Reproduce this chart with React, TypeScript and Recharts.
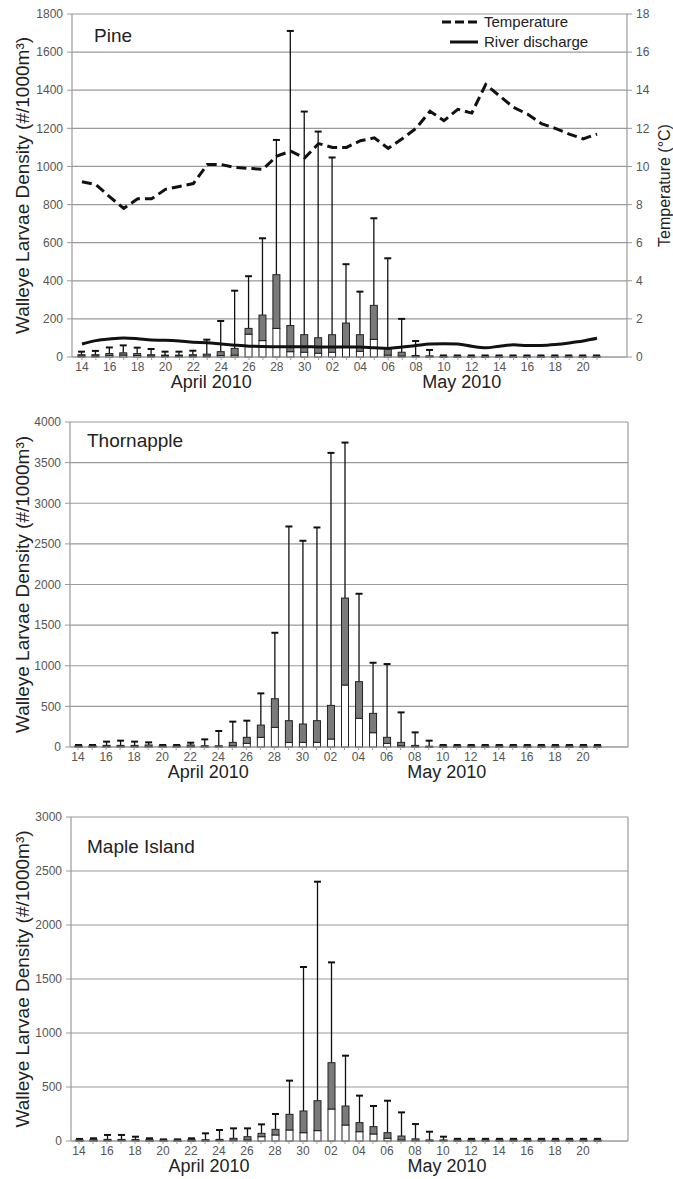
import React from 'react';
import { ComposedChart, Bar, Line, XAxis, YAxis, CartesianGrid, Legend, Label } from 'recharts';

const FONT = '"Liberation Sans", Arial, sans-serif';

// sampling dates, 14 April to 21 May 2010
const dates = [
  'Apr 14', 'Apr 15', 'Apr 16', 'Apr 17', 'Apr 18', 'Apr 19', 'Apr 20', 'Apr 21', 'Apr 22',
  'Apr 23', 'Apr 24', 'Apr 25', 'Apr 26', 'Apr 27', 'Apr 28', 'Apr 29', 'Apr 30',
  'May 01', 'May 02', 'May 03', 'May 04', 'May 05', 'May 06', 'May 07', 'May 08', 'May 09',
  'May 10', 'May 11', 'May 12', 'May 13', 'May 14', 'May 15', 'May 16', 'May 17', 'May 18',
  'May 19', 'May 20', 'May 21',
];

// Pine
const pineMedian = [5, 5, 8, 10, 8, 5, 5, 5, 5, 5, 8, 10, 120, 86, 150, 28, 25,
  20, 25, 55, 30, 93, 10, 5, 3, 2, 1, 1, 1, 1, 1, 1, 1, 1, 1, 1, 1, 1];
const pineQ3 = [12, 12, 18, 22, 18, 12, 10, 10, 12, 15, 28, 45, 150, 220, 432, 165, 117,
  101, 117, 178, 117, 271, 45, 25, 8, 6, 4, 4, 4, 4, 4, 4, 4, 4, 4, 4, 4, 4];
const pineMax = [28, 32, 50, 61, 49, 42, 28, 28, 33, 91, 189, 348, 424, 623, 1139, 1711, 1288,
  1183, 1047, 487, 343, 728, 518, 200, 84, 37, 8, 8, 8, 8, 8, 8, 8, 8, 8, 8, 8, 8];
const pineTemp = [9.2, 9.05, 8.4, 7.8, 8.3, 8.3, 8.8, 8.95, 9.1, 10.1, 10.1, 9.95, 9.9, 9.85, 10.55, 10.8, 10.45,
  11.2, 11.0, 11.0, 11.35, 11.5, 10.95, 11.45, 12.0, 12.9, 12.4, 13.0, 12.8, 14.3, 13.7, 13.1, 12.75,
  12.25, 12.0, 11.7, 11.45, 11.7];
const pineDischarge = [68, 86, 95, 100, 96, 89, 88, 84, 77, 75, 68, 62, 57, 55, 54, 54, 54,
  53, 53, 53, 52, 48, 45, 52, 60, 68, 70, 68, 56, 48, 57, 64, 60, 61, 66, 74, 84, 98];

// Thornapple
const thornMedian = [5, 5, 5, 5, 5, 5, 5, 5, 5, 5, 5, 15, 45, 119, 242, 57, 57,
  57, 98, 763, 353, 176, 45, 15, 5, 3, 3, 3, 3, 3, 3, 3, 3, 3, 3, 3, 3, 3];
const thornQ3 = [15, 15, 20, 20, 20, 25, 15, 15, 25, 15, 15, 57, 119, 270, 594, 324, 283,
  324, 512, 1833, 804, 414, 119, 57, 20, 10, 15, 15, 15, 15, 15, 15, 15, 15, 15, 15, 15, 15];
const thornMax = [25, 25, 66, 78, 66, 57, 25, 25, 53, 94, 197, 312, 324, 660, 1406, 2714, 2538,
  2702, 3620, 3747, 1886, 1037, 1021, 426, 180, 78, 25, 25, 25, 25, 25, 25, 25, 25, 25, 25, 25, 25];

// Maple Island
const mapleMedian = [3, 3, 5, 5, 5, 3, 3, 3, 3, 3, 5, 8, 10, 40, 56, 102, 77,
  96, 296, 148, 86, 65, 25, 10, 5, 3, 3, 3, 3, 3, 3, 3, 3, 3, 3, 3, 3, 3];
const mapleQ3 = [12, 15, 15, 15, 15, 15, 10, 10, 15, 12, 15, 25, 40, 71, 108, 247, 278,
  373, 725, 324, 170, 133, 77, 46, 20, 10, 10, 12, 12, 12, 12, 12, 12, 12, 12, 12, 12, 12];
const mapleMax = [19, 25, 56, 56, 40, 25, 15, 15, 25, 71, 102, 117, 117, 154, 250, 559, 1611,
  2401, 1654, 790, 420, 324, 373, 265, 157, 86, 40, 20, 20, 20, 20, 20, 20, 20, 20, 20, 20, 20];

const pineTicks = [0, 200, 400, 600, 800, 1000, 1200, 1400, 1600, 1800];
const tempTicks = [0, 2, 4, 6, 8, 10, 12, 14, 16, 18];
const thornTicks = [0, 500, 1000, 1500, 2000, 2500, 3000, 3500, 4000];
const mapleTicks = [0, 500, 1000, 1500, 2000, 2500, 3000];

const legendOrder = ['temp', 'discharge'];

type MonthMark = { at: string; label: string };
const pineMonths: MonthMark[] = [{ at: 'Apr 23', label: 'April 2010' }, { at: 'May 11', label: 'May 2010' }];
const lowerMonths: MonthMark[] = [{ at: 'Apr 23', label: 'April 2010' }, { at: 'May 10', label: 'May 2010' }];

const buildRows = (med: number[], q3: number[], max: number[]) =>
  dates.map((d, i) => ({
    date: d,
    median: med[i],
    q3: q3[i],
    max: max[i],
    temp: pineTemp[i],
    discharge: pineDischarge[i],
  }));

const GRID = '#9a9a9a';
const TICK = { fontSize: 12, fill: '#555', fontFamily: FONT };

// box: white 0..median, grey median..q3, whisker up to max
const BoxShape = (props: any) => {
  const { x, y, width, height, payload } = props;
  if (!payload || !height || height <= 0) return null;
  const base = y + height;
  const px = (v: number) => base - (v / payload.max) * height;
  const cx = x + width / 2;
  const yMed = px(payload.median);
  const yQ3 = px(payload.q3);
  return (
    <g>
      <line x1={cx} x2={cx} y1={yQ3} y2={y} stroke="#111" strokeWidth={1.3} />
      <line x1={cx - 3.5} x2={cx + 3.5} y1={y} y2={y} stroke="#111" strokeWidth={2} />
      <rect x={x} y={yMed} width={width} height={Math.max(base - yMed, 0.5)} fill="#fff" stroke="#222" strokeWidth={1} />
      <rect x={x} y={yQ3} width={width} height={Math.max(yMed - yQ3, 0.5)} fill="#7a7a7a" stroke="#222" strokeWidth={1} />
    </g>
  );
};

const sideLabel = (text: string, dx: number, size: number) => (p: any) => {
  const vb = p.viewBox;
  const cx = vb.x + dx;
  const cy = vb.y + vb.height / 2;
  return (
    <text transform={`translate(${cx},${cy}) rotate(-90)`} textAnchor="middle" dominantBaseline="central"
      fontSize={size} fill="#222" fontFamily={FONT}>{text}</text>
  );
};

const monthTick = (months: MonthMark[]) => (p: any) => {
  const m = months.find((mm) => mm.at === p.payload.value);
  if (!m) return <g />;
  return (
    <text x={p.x + 4} y={p.y} dy="0.71em" textAnchor="middle" fontSize={18} fill="#222" fontFamily={FONT}>
      {m.label}
    </text>
  );
};

const renderLegend = (props: any) => {
  const items = (props.payload || [])
    .filter((e: any) => legendOrder.includes(e.dataKey))
    .sort((a: any, b: any) => legendOrder.indexOf(a.dataKey) - legendOrder.indexOf(b.dataKey));
  return (
    <div style={{ fontFamily: FONT, fontSize: 15, color: '#222', lineHeight: '20px' }}>
      {items.map((e: any) => (
        <div key={e.dataKey} style={{ display: 'flex', alignItems: 'center' }}>
          <svg width={38} height={10}>
            {e.dataKey === 'temp'
              ? <line x1={2} x2={38} y1={5} y2={5} stroke="#111" strokeWidth={3} strokeDasharray="9 4" />
              : <line x1={10} x2={38} y1={5} y2={5} stroke="#111" strokeWidth={3} />}
          </svg>
          <span style={{ marginLeft: 6 }}>{e.value}</span>
        </div>
      ))}
    </div>
  );
};

type PanelProps = {
  top: number;
  title: string;
  titleX: number;
  titleDy: number;
  rows: ReturnType<typeof buildRows>;
  ticks: number[];
  plotHeight: number;
  leftWidth: number;
  padLeft: number;
  padRight: number;
  months: MonthMark[];
  withLines?: boolean;
};

const Panel = ({ top, title, titleX, titleDy, rows, ticks, plotHeight, leftWidth, padLeft, padRight, months, withLines }: PanelProps) => {
  const marginTop = 14;
  const height = marginTop + plotHeight + 16 + 22;
  return (
    <div style={{ position: 'absolute', left: 0, top, width: 673, height }}>
      <ComposedChart width={673} height={height} data={rows}
        margin={{ top: marginTop, right: withLines ? 0 : 45, left: 0, bottom: 0 }}>
        <CartesianGrid stroke={GRID} strokeWidth={1.2} vertical={!withLines}
          verticalCoordinatesGenerator={({ offset }: any) => [offset.left + offset.width]} />
        <XAxis dataKey="date" interval={0} height={16} tickSize={3} tickMargin={2}
          padding={{ left: padLeft, right: padRight }}
          axisLine={{ stroke: GRID, strokeWidth: 1.2 }} tickLine={{ stroke: GRID }}
          tick={TICK} tickFormatter={(v: string, i: number) => (i % 2 === 0 ? v.slice(4) : '')} />
        <XAxis xAxisId="month" dataKey="date" interval={0} height={22} tickSize={0} tickMargin={2}
          padding={{ left: padLeft, right: padRight }}
          axisLine={false} tickLine={false} tick={monthTick(months)} />
        <YAxis width={leftWidth} domain={[ticks[0], ticks[ticks.length - 1]]} ticks={ticks}
          tickSize={5} tickMargin={4} axisLine={{ stroke: GRID, strokeWidth: 1.2 }} tickLine={{ stroke: GRID }}
          tick={TICK}>
          <Label content={sideLabel('Walleye Larvae Density (#/1000m³)', 22, 19)} />
        </YAxis>
        {withLines && (
          <YAxis yAxisId="temp" orientation="right" width={46} domain={[0, 18]} ticks={tempTicks}
            tickSize={5} tickMargin={4} axisLine={{ stroke: GRID, strokeWidth: 1.2 }} tickLine={{ stroke: GRID }}
            tick={TICK}>
            <Label content={sideLabel('Temperature (°C)', 37, 16)} />
          </YAxis>
        )}
        <Bar dataKey="max" barSize={7} shape={BoxShape} legendType="none" isAnimationActive={false} />
        {withLines && (
          <Line dataKey="discharge" name="River discharge" type="monotone" stroke="#111" strokeWidth={3}
            dot={false} activeDot={false} isAnimationActive={false} />
        )}
        {withLines && (
          <Line dataKey="temp" name="Temperature" yAxisId="temp" type="linear" stroke="#111" strokeWidth={3}
            strokeDasharray="10 5" dot={false} activeDot={false} isAnimationActive={false} />
        )}
        {withLines && (
          <Legend layout="horizontal" verticalAlign="middle" align="center" content={renderLegend}
            wrapperStyle={{ left: 440, top: 12, width: 200, height: 44 }} />
        )}
        <text x={titleX} y={marginTop + titleDy} fontSize={19} fill="#222" fontFamily={FONT}>{title}</text>
      </ComposedChart>
    </div>
  );
};

const App = () => {
  const pine = buildRows(pineMedian, pineQ3, pineMax);
  const thorn = buildRows(thornMedian, thornQ3, thornMax);
  const maple = buildRows(mapleMedian, mapleQ3, mapleMax);
  return (
    <div style={{ position: 'absolute', left: 0, top: 0, width: 673, height: 1179, background: '#fff', overflow: 'hidden' }}>
      <Panel top={0} title="Pine" titleX={94} titleDy={28} rows={pine} ticks={pineTicks} plotHeight={343}
        leftWidth={72} padLeft={3} padRight={23} months={pineMonths} withLines />
      <Panel top={408} title="Thornapple" titleX={87} titleDy={25} rows={thorn} ticks={thornTicks} plotHeight={325}
        leftWidth={70} padLeft={1} padRight={24} months={lowerMonths} />
      <Panel top={803} title="Maple Island" titleX={87} titleDy={36} rows={maple} ticks={mapleTicks} plotHeight={324}
        leftWidth={71} padLeft={1} padRight={24} months={lowerMonths} />
    </div>
  );
};

export default App;
